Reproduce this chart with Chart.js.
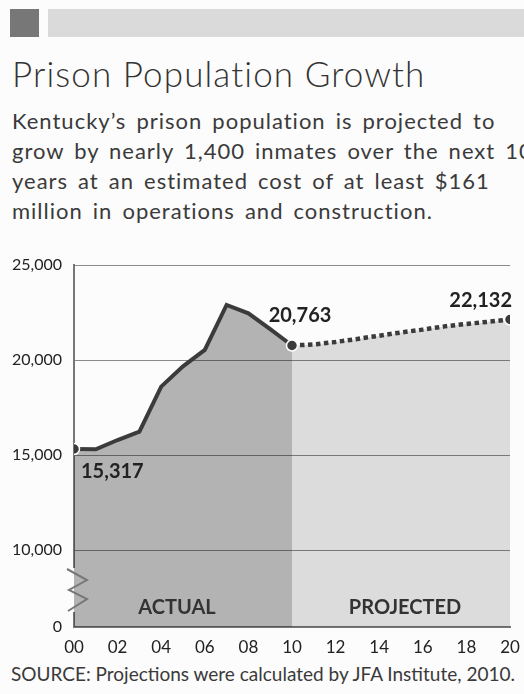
<!DOCTYPE html>
<html>
<head>
<meta charset="utf-8">
<script src="https://cdn.jsdelivr.net/npm/chart.js@4.4.0/dist/chart.umd.min.js"></script>
<style>
  html, body { margin: 0; padding: 0; }
  body {
    width: 524px; height: 694px; overflow: hidden; position: relative;
    background: #fcfcfc; font-family: Lato, "Open Sans", sans-serif; color: #333;
  }
  .sq { position: absolute; left: 10px; top: 9px; width: 29px; height: 28px; background: #777; }
  .bar { position: absolute; left: 48px; top: 9px; width: 476px; height: 28px; background: #dadada; }
  .title { position: absolute; left: 12px; top: 53px; font-size: 35px; line-height: 40px; font-weight: 300; letter-spacing: 1.1px; white-space: nowrap; }
  .intro { position: absolute; left: 12px; top: 106px; font-size: 22px; line-height: 30px; letter-spacing: 1px; word-spacing: 3.4px; white-space: nowrap; color: #3a3a3a; }
  .source { position: absolute; left: 11px; top: 663px; font-size: 19px; line-height: 22px; white-space: nowrap; color: #3a3a3a; }
  #wrap { position: absolute; left: 0; top: 250px; width: 524px; height: 410px; }
</style>
</head>
<body>
<div class="sq"></div>
<div class="bar"></div>
<div class="title">Prison Population Growth</div>
<div class="intro">Kentucky’s prison population is projected to<br>grow by nearly 1,400 inmates over the next 10<br>years at an estimated cost of at least $161<br>million in operations and construction.</div>
<div id="wrap"><canvas id="myChart"></canvas></div>
<div class="source">SOURCE: Projections were calculated by JFA Institute, 2010.</div>

<script>
// actual counts 2000-2010
const actualYears = [2000, 2001, 2002, 2003, 2004, 2005, 2006, 2007, 2008, 2009, 2010];
const actualValues = [15317, 15300, 15790, 16230, 18600, 19670, 20530, 22900, 22460, 21620, 20763];

// JFA projection 2010-2020
const projYears = [2010, 2011, 2012, 2013, 2014, 2015, 2016, 2017, 2018, 2019, 2020];
const projValues = [20763, 20820, 20950, 21110, 21280, 21450, 21600, 21770, 21900, 22010, 22132];

// broken axis: bottom of the scale is labelled 0
const yMin = 5950;
const yMax = 25000;
const yTicks = [10000, 15000, 20000, 25000];
const yBreakLabel = '0';
const xTickStep = 2;
const regionLabels = ['ACTUAL', 'PROJECTED'];

const bg = '#fcfcfc';
const ink = '#3b3b3b';
const fmt = v => v.toLocaleString('en-US');

Chart.defaults.font.family = 'Lato, "Open Sans", sans-serif';

const annotations = {
    id: 'annotations',
    afterDatasetsDraw(chart) {
        const ctx = chart.ctx;
        const x = chart.scales.x, y = chart.scales.y;
        const area = chart.chartArea;

        // axis break zigzag
        const l = area.left, b = area.bottom;
        ctx.save();
        ctx.fillStyle = bg;
        ctx.fillRect(l - 2, b - 59, 2, 44);
        ctx.fillStyle = '#b3b3b3';
        ctx.fillRect(l, b - 59, 2, 44);
        ctx.strokeStyle = '#777';
        ctx.lineWidth = 2;
        ctx.beginPath();
        ctx.moveTo(l - 7, b - 58);
        ctx.lineTo(l + 13, b - 47);
        ctx.lineTo(l - 5, b - 37);
        ctx.lineTo(l + 13, b - 28);
        ctx.lineTo(l - 6, b - 16);
        ctx.stroke();

        // value labels
        ctx.fillStyle = '#222';
        ctx.font = 'bold 20px Lato, "Open Sans", sans-serif';
        ctx.textBaseline = 'middle';
        const first = actualValues[0];
        const mid = actualValues[actualValues.length - 1];
        const last = projValues[projValues.length - 1];
        ctx.textAlign = 'left';
        ctx.fillText(fmt(first), x.getPixelForValue(actualYears[0]) + 7, y.getPixelForValue(first) + 23);
        ctx.textAlign = 'center';
        ctx.fillText(fmt(mid), x.getPixelForValue(actualYears[actualYears.length - 1]) + 8, y.getPixelForValue(mid) - 30);
        ctx.textAlign = 'right';
        ctx.fillText(fmt(last), x.getPixelForValue(projYears[projYears.length - 1]) + 2, y.getPixelForValue(last) - 19);

        // region labels
        ctx.fillStyle = '#333';
        ctx.textAlign = 'center';
        const x0 = x.getPixelForValue(actualYears[0]);
        const x1 = x.getPixelForValue(projYears[0]);
        const x2 = x.getPixelForValue(projYears[projYears.length - 1]);
        ctx.fillText(regionLabels[0], (x0 + x1) / 2 - 6, b - 19);
        ctx.fillText(regionLabels[1], (x1 + x2) / 2 + 4, b - 19);
        ctx.restore();
    }
};

const ctx = document.getElementById('myChart').getContext('2d');
const myChart = new Chart(ctx, {
    type: 'line',
    data: {
        datasets: [
            {
                label: 'Actual',
                data: actualYears.map((yr, i) => ({ x: yr, y: actualValues[i] })),
                borderColor: ink,
                borderWidth: 4,
                backgroundColor: 'rgba(0, 0, 0, 0.29)',
                fill: 'start',
                tension: 0,
                pointRadius: c => (c.dataIndex === 0 || c.dataIndex === actualYears.length - 1) ? 5.5 : 0,
                pointBackgroundColor: ink,
                pointBorderColor: '#fff',
                pointBorderWidth: 1.5
            },
            {
                label: 'Projected',
                data: projYears.map((yr, i) => ({ x: yr, y: projValues[i] })),
                borderColor: ink,
                borderWidth: 4.5,
                borderDash: [4.5, 3.5],
                borderCapStyle: 'butt',
                backgroundColor: 'rgba(0, 0, 0, 0.127)',
                fill: 'start',
                tension: 0,
                pointRadius: c => c.dataIndex === projYears.length - 1 ? 5.5 : 0,
                pointBackgroundColor: ink,
                pointBorderColor: '#fff',
                pointBorderWidth: 1.5
            }
        ]
    },
    options: {
        responsive: true,
        maintainAspectRatio: false,
        animation: false,
        layout: { padding: { top: 15, right: 14, left: 0, bottom: 0 } },
        plugins: {
            legend: { display: false },
            tooltip: { enabled: false }
        },
        scales: {
            x: {
                type: 'linear',
                min: actualYears[0],
                max: projYears[projYears.length - 1],
                grid: { display: false, drawTicks: false },
                border: { display: true, color: '#777', width: 2 },
                ticks: {
                    stepSize: xTickStep,
                    padding: 10,
                    color: '#222',
                    font: { size: 17 },
                    maxRotation: 0,
                    callback: v => String(v % 100).padStart(2, '0')
                },
                // keep the label overhang out of the layout, padding above handles it
                afterFit: s => { s.height = 33; s.paddingLeft = 0; s.paddingRight = 0; }
            },
            y: {
                min: yMin,
                max: yMax,
                afterBuildTicks: s => { s.ticks = [yMin, ...yTicks].map(v => ({ value: v })); },
                grid: { color: '#8a8a8a', lineWidth: 1, drawTicks: false },
                border: { display: true, color: '#777', width: 2 },
                ticks: {
                    padding: 12,
                    color: '#222',
                    font: { size: 16 },
                    callback: v => v === yMin ? yBreakLabel : fmt(v)
                },
                afterFit: s => { s.width = 74; s.paddingTop = 0; s.paddingBottom = 0; }
            }
        }
    },
    plugins: [annotations]
});
</script>
</body>
</html>
